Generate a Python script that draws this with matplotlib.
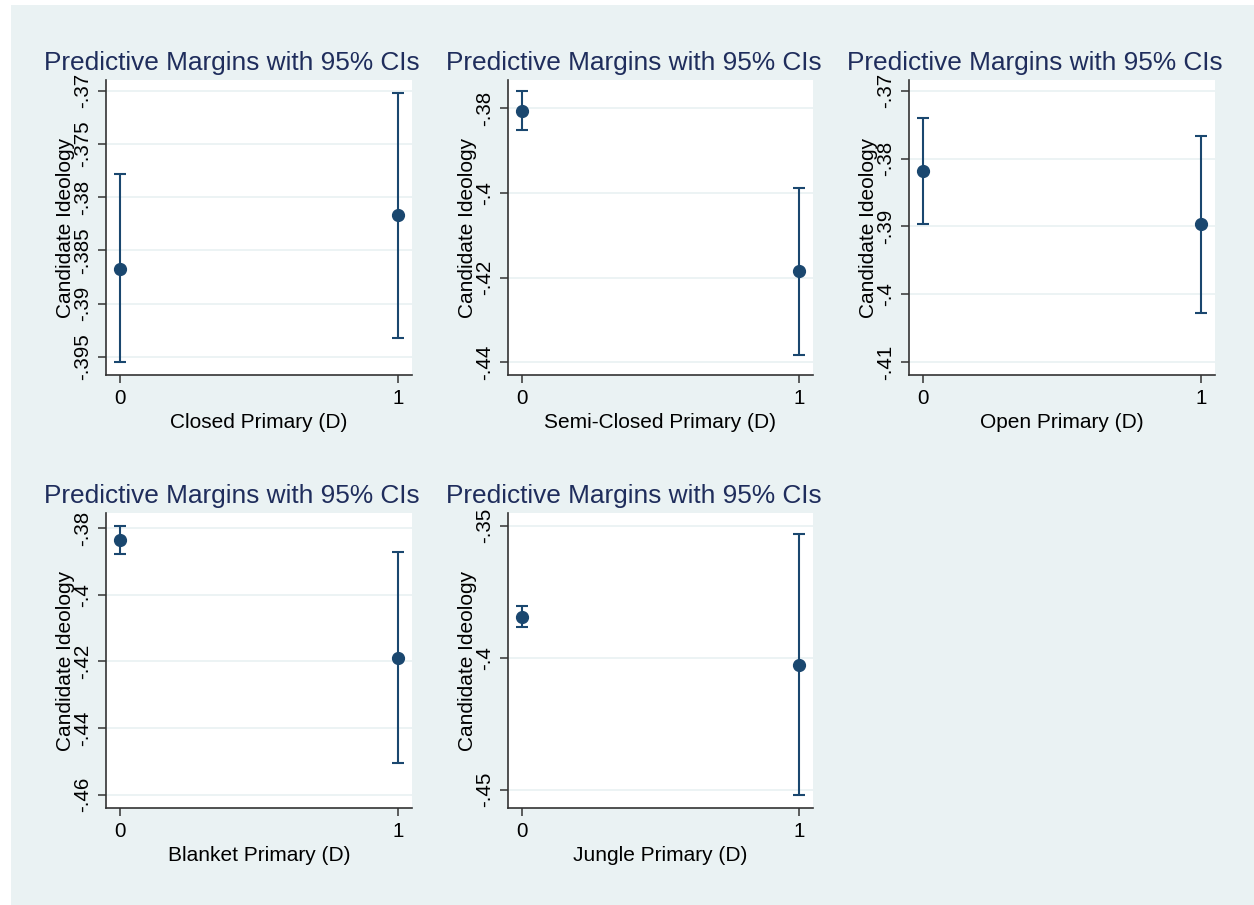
import numpy as np
import matplotlib
matplotlib.use("Agg")
import matplotlib.pyplot as plt
from matplotlib.patches import Rectangle

plt.rcParams['font.family'] = ['Liberation Sans', 'DejaVu Sans']

# margins (predicted candidate ideology) at D = 0 and D = 1, with 95% CIs
x_levels = [0, 1]
xlabels = ["Closed Primary (D)", "Semi-Closed Primary (D)", "Open Primary (D)",
           "Blanket Primary (D)", "Jungle Primary (D)"]
margins = [[-.3867, -.3817], [-.3806, -.4185], [-.3818, -.3897],
           [-.3836, -.4189], [-.3845, -.4028]]
ci_low = [[-.3955, -.3932], [-.3852, -.4383], [-.3896, -.4027],
          [-.3877, -.4505], [-.3884, -.4519]]
ci_high = [[-.3778, -.3702], [-.3759, -.3987], [-.3740, -.3766],
           [-.3793, -.3873], [-.3804, -.3533]]

yticks = [[-.395, -.39, -.385, -.38, -.375, -.37],
          [-.44, -.42, -.4, -.38],
          [-.41, -.4, -.39, -.38, -.37],
          [-.46, -.44, -.42, -.4, -.38],
          [-.45, -.4, -.35]]
ytick_labels = [["-.395", "-.39", "-.385", "-.38", "-.375", "-.37"],
                ["-.44", "-.42", "-.4", "-.38"],
                ["-.41", "-.4", "-.39", "-.38", "-.37"],
                ["-.46", "-.44", "-.42", "-.4", "-.38"],
                ["-.45", "-.4", "-.35"]]
ylims = [(-.3967, -.369), (-.443, -.3733), (-.4119, -.3684),
         (-.464, -.3755), (-.4569, -.3452)]

title = "Predictive Margins with 95% CIs"
ylabel = "Candidate Ideology"

navy = "#1A476F"
bg = "#EAF2F3"

W, H = 1254, 905
fig = plt.figure(figsize=(W / 100, H / 100), dpi=100)
fig.patch.set_facecolor("white")
fig.add_artist(Rectangle((11 / W, 0), 1 - 11 / W, 1 - 5 / H, transform=fig.transFigure,
                         facecolor=bg, edgecolor="none", zorder=-10))

# axes boxes in pixels: left, right, top, bottom
boxes = [(106, 412, 80, 375), (508, 813, 80, 375), (909, 1215, 80, 375),
         (106, 412, 513, 808), (508, 813, 513, 808)]

for i, (l, r, t, b) in enumerate(boxes):
    ax = fig.add_axes([l / W, 1 - b / H, (r - l) / W, (b - t) / H])
    ax.set_facecolor("white")
    m = np.array(margins[i])
    lo = np.array(ci_low[i])
    hi = np.array(ci_high[i])
    ax.errorbar(x_levels, m, yerr=[m - lo, hi - m], fmt="o", color=navy,
                ms=8.5, elinewidth=1.5, capsize=4.5, capthick=1.5, zorder=3)

    ax.set_xlim(-0.05, 1.05)
    ax.set_ylim(*ylims[i])
    ax.set_xticks(x_levels)
    ax.set_xticklabels([str(v) for v in x_levels])
    ax.set_yticks(yticks[i])
    ax.set_yticklabels(ytick_labels[i], rotation=90, va="center")
    ax.grid(axis="y", color=bg, lw=1.3)
    ax.set_axisbelow(True)

    for s in ["top", "right"]:
        ax.spines[s].set_visible(False)
    for s in ["left", "bottom"]:
        ax.spines[s].set_color("#333333")
        ax.spines[s].set_linewidth(1.2)
    ax.tick_params(direction="out", length=6, width=1.1, color="#333333",
                   labelsize=14.8, pad=4)

    ax.set_xlabel(xlabels[i], fontsize=15, labelpad=4)
    ax.set_ylabel(ylabel, fontsize=15)
    ax.yaxis.set_label_coords(-0.101, 0.5)
    ax.set_title(title, x=0.411, fontsize=18.9, color="#1F2D5C", pad=7.5)

fig.savefig("out.png", dpi=100, facecolor=fig.get_facecolor())
